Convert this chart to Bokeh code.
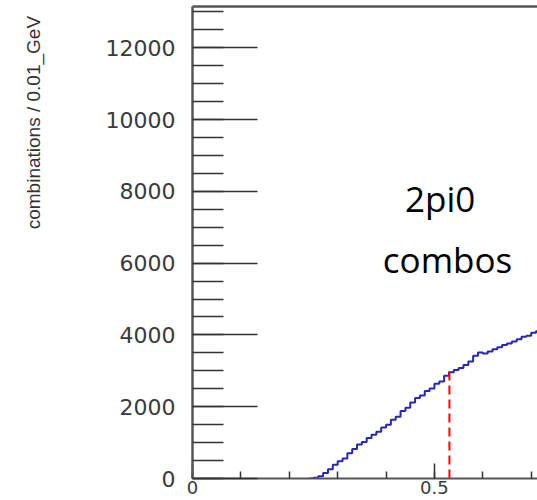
from bokeh.plotting import figure
from bokeh.layouts import row
from bokeh.models import Range1d, FixedTicker, LinearAxis, Label
from bokeh.embed import file_html
from bokeh.resources import INLINE

# histogram: bin low edges (GeV, width 0.01) and counts
bin_lo = [0.24, 0.25, 0.26, 0.27, 0.28, 0.29, 0.30, 0.31, 0.32, 0.33, 0.34, 0.35,
          0.36, 0.37, 0.38, 0.39, 0.40, 0.41, 0.42, 0.43, 0.44, 0.45, 0.46, 0.47,
          0.48, 0.49, 0.50, 0.51, 0.52, 0.53, 0.54, 0.55, 0.56, 0.57, 0.58, 0.59,
          0.60, 0.61, 0.62, 0.63, 0.64, 0.65, 0.66, 0.67, 0.68, 0.69, 0.70, 0.71]
counts = [0, 20, 60, 150, 260, 380, 480, 560, 700, 820, 950, 1020,
          1130, 1220, 1300, 1420, 1500, 1640, 1720, 1880, 1970, 2120, 2240, 2310,
          2440, 2510, 2640, 2700, 2860, 2960, 3020, 3080, 3160, 3260, 3420, 3510,
          3480, 3540, 3600, 3660, 3720, 3760, 3820, 3880, 3950, 3980, 4060, 4100]
bin_width = 0.01

cut_x = 0.531
cut_y = 3020

y_major = [0, 2000, 4000, 6000, 8000, 10000, 12000]
y_minor = list(range(0, 13500, 500))
x_major = [0, 0.5]
x_minor = [0.0, 0.1, 0.2, 0.3, 0.4, 0.5, 0.6, 0.7]

y_title = "combinations / 0.01_GeV"
note1 = "2pi0"
note2 = "combos"

# narrow strip holding the rotated y-axis title
t = figure(width=50, height=500, output_backend="svg", toolbar_location=None,
           x_range=Range1d(0, 50), y_range=Range1d(0, 500),
           min_border=0, outline_line_color=None)
t.axis.visible = False
t.grid.visible = False
t.add_layout(Label(x=33, y=490, text=y_title, angle=1.5708, angle_units="rad",
                   text_align="right", text_baseline="middle",
                   text_font="Liberation Sans", text_font_size="19px",
                   text_color="#333333"))

p = figure(width=487, height=500, output_backend="svg", toolbar_location=None,
           x_range=Range1d(0, 0.713), y_range=Range1d(0, 13150),
           min_border_left=142, min_border_right=0, min_border_top=6,
           min_border_bottom=22)
p.outline_line_color = None
p.grid.visible = False
p.background_fill_color = "white"

axis_col = "#555555"
lab_col = "#3a3a3a"

ya = p.yaxis[0]
ya.ticker = FixedTicker(ticks=y_major, minor_ticks=y_minor)
ya.major_tick_in = 65
ya.major_tick_out = 0
ya.minor_tick_in = 31
ya.minor_tick_out = 0
ya.axis_line_width = 2.5
ya.axis_line_color = axis_col
ya.major_tick_line_color = "#333333"
ya.minor_tick_line_color = "#333333"
ya.major_tick_line_width = 1.5
ya.minor_tick_line_width = 1.5
ya.major_label_text_font = "DejaVu Sans"
ya.major_label_text_font_size = "22px"
ya.major_label_text_color = lab_col
ya.major_label_standoff = 17

xa = p.xaxis[0]
xa.ticker = FixedTicker(ticks=x_major, minor_ticks=x_minor)
xa.major_tick_in = 15
xa.major_tick_out = 0
xa.minor_tick_in = 7
xa.minor_tick_out = 0
xa.axis_line_width = 2
xa.axis_line_color = axis_col
xa.major_tick_line_color = "#333333"
xa.minor_tick_line_color = "#333333"
xa.major_tick_line_width = 1.5
xa.minor_tick_line_width = 1.5
xa.major_label_text_font = "DejaVu Sans"
xa.major_label_text_font_size = "18px"
xa.major_label_text_color = lab_col
xa.major_label_standoff = 2

top = LinearAxis(major_tick_in=0, major_tick_out=0, minor_tick_in=0, minor_tick_out=0,
                 major_label_text_font_size="0px", axis_line_color=axis_col,
                 axis_line_width=2.5, ticker=FixedTicker(ticks=[]))
p.add_layout(top, "above")

edges = bin_lo + [bin_lo[-1] + bin_width]
vals = counts + [counts[-1]]
p.step(x=edges, y=vals, mode="after", line_color="#2626b8", line_width=2)

p.segment(x0=[cut_x], y0=[0], x1=[cut_x], y1=[cut_y], line_color="red",
          line_width=2, line_dash="9 5")

p.add_layout(Label(x=0.512, y=7800, text=note1, text_align="center",
                   text_baseline="alphabetic", text_font="Open Sans",
                   text_font_size="35px", text_color="black"))
p.add_layout(Label(x=0.527, y=6100, text=note2, text_align="center",
                   text_baseline="alphabetic", text_font="Open Sans",
                   text_font_size="35px", text_color="black"))

layout = row(t, p, spacing=0)
open("out.html", "w").write(file_html(layout, INLINE))
